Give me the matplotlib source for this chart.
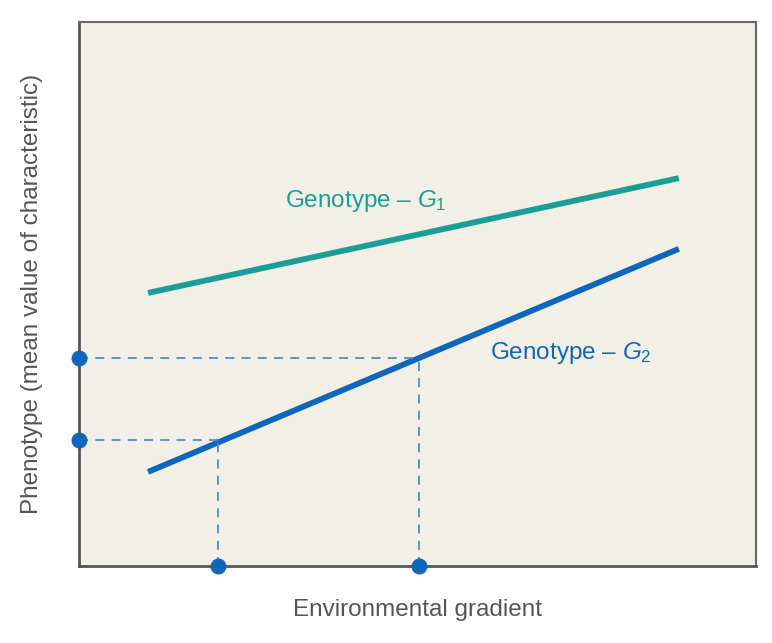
import matplotlib
matplotlib.use("Agg")
import matplotlib.pyplot as plt

# ~~~~~~~~~~ Data ~~~~~~~~~~ #
env_ends = [1.02, 8.86]          # where both norm-of-reaction lines start / stop
g1_pheno = [5.02, 7.13]          # Genotype G1
g2_pheno = [1.73, 5.83]          # Genotype G2
env_marks = [2.05, 5.02]         # marked environments on x axis
pheno_marks = [2.32, 3.82]       # G2 phenotype at those environments

teal = "#1a9f94"
blue = "#0f67bd"
dash_blue = "#4a8fd1"
bg = "#f2f0e6"
grey = "#555555"

plt.rcParams['font.family'] = ['Liberation Sans', 'DejaVu Sans']
plt.rcParams['mathtext.fontset'] = 'custom'
plt.rcParams['mathtext.rm'] = 'Liberation Sans'
plt.rcParams['mathtext.it'] = 'Liberation Sans:italic'

fig = plt.figure(figsize=(7.72, 6.43), dpi=100)
ax = fig.add_axes([79/772, 1 - 566/643, 677/772, 544/643])
ax.set_facecolor(bg)
ax.set_xlim(0, 10)
ax.set_ylim(0, 10)

# Reaction norms
ax.plot(env_ends, g1_pheno, color=teal, lw=4.2, solid_capstyle='butt')
ax.plot(env_ends, g2_pheno, color=blue, lw=4.2, solid_capstyle='butt')

# Dashed guides from marked environments to the axes
for xe, yp in zip(env_marks, pheno_marks):
    ax.plot([0, xe], [yp, yp], ls=(0, (5, 4)), color=dash_blue, lw=1.3)
    ax.plot([xe, xe], [0, yp], ls=(0, (5, 4)), color=dash_blue, lw=1.3)

ax.scatter([0] * len(pheno_marks), pheno_marks, s=110, color=blue,
           zorder=5, clip_on=False)
ax.scatter(env_marks, [0] * len(env_marks), s=110, color=blue,
           zorder=5, clip_on=False)

# Labels on the lines
ax.text(3.04, 6.6, r"Genotype – $\mathit{G}_1$", color=teal, fontsize=17.5)
ax.text(6.07, 3.8, r"Genotype – $\mathit{G}_2$", color=blue, fontsize=17.5)

ax.set_xticks([])
ax.set_yticks([])
for side in ['left', 'bottom']:
    ax.spines[side].set_linewidth(2)
    ax.spines[side].set_color(grey)
for side in ['top', 'right']:
    ax.spines[side].set_linewidth(1.5)
    ax.spines[side].set_color("#666666")

ax.set_xlabel("Environmental gradient", fontsize=17.5, color=grey, labelpad=24)
ax.set_ylabel("Phenotype (mean value of characteristic)", fontsize=17.5,
              color=grey, labelpad=26)

fig.savefig("out.png", dpi=100, facecolor="white")
